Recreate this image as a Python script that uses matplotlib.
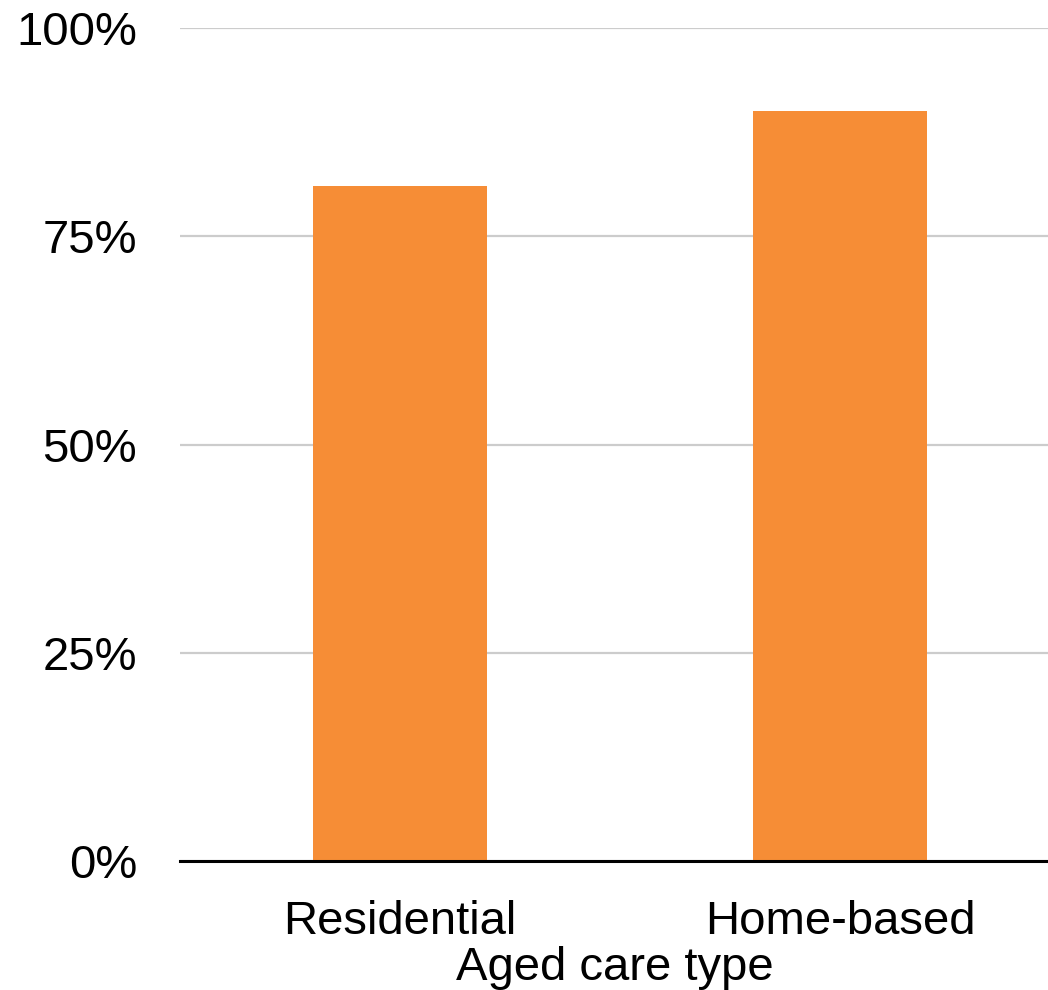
import matplotlib
matplotlib.use("Agg")
import matplotlib.pyplot as plt
from matplotlib.ticker import FuncFormatter

plt.rcParams['font.family'] = ['Liberation Sans', 'DejaVu Sans']

care_types = ["Residential", "Home-based"]
share = [81, 90]
y_ticks = [0, 25, 50, 75, 100]

BAR = '#F68D36'
GRID = '#CCCCCC'

fig = plt.figure(figsize=(10.48, 9.9), dpi=100)
ax = fig.add_axes([180 / 1048, 129 / 990, 880 / 1048, 833 / 990])

x = range(len(care_types))
ax.bar(x, share, width=0.395, color=BAR, zorder=2)

ax.set_xlim(-0.5, 1.5)
ax.set_ylim(0, 100)
ax.set_yticks(y_ticks)
ax.yaxis.set_major_formatter(FuncFormatter(lambda v, p: f"{v:.0f}%"))
ax.set_xticks(list(x))
ax.set_xticklabels(care_types)

ax.tick_params(axis='y', length=0, pad=31, labelsize=34)
ax.tick_params(axis='x', length=0, pad=28, labelsize=34)

ax.grid(axis='y', color=GRID, linewidth=1.6, zorder=0)
ax.set_axisbelow(True)
for s in ['top', 'right', 'left']:
    ax.spines[s].set_visible(False)
ax.spines['bottom'].set_linewidth(2.2)
ax.spines['bottom'].set_color('black')
ax.spines['bottom'].set_zorder(3)

ax.set_xlabel("Aged care type", fontsize=34)
ax.xaxis.set_label_coords(0.494, -0.102)
ax.xaxis.label.set_verticalalignment('top')

fig.savefig("out.png", dpi=100)
